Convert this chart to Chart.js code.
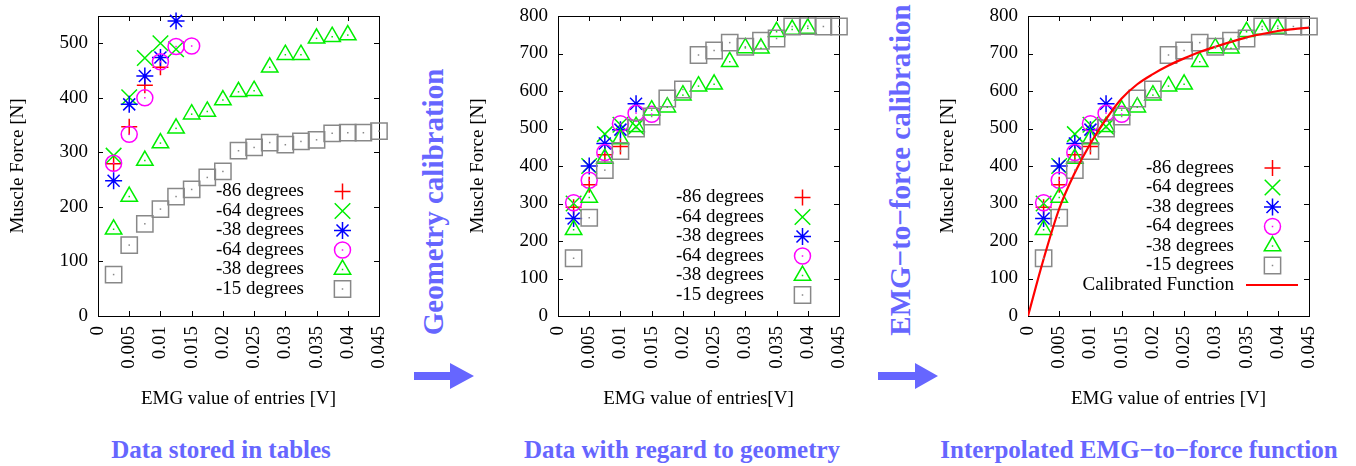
<!DOCTYPE html>
<html lang="en">
<head>
<meta charset="UTF-8" />
<title>EMG-to-force calibration</title>
<script src="https://cdn.jsdelivr.net/npm/chart.js"></script>
<style>
  body { margin: 0; background: #fff; }
  #page { position: relative; width: 1356px; height: 466px; overflow: hidden; font-family: "Liberation Serif", serif; }
  canvas { position: absolute; top: 0; }
  .caption { position: absolute; top: 435px; width: 440px; text-align: center; font-size: 25px; font-weight: bold; line-height: 30px; color: #6666ff; white-space: nowrap; }
  .step { position: absolute; font-size: 29px; font-weight: bold; line-height: 29px; color: #6666ff; white-space: nowrap; transform: translate(-50%, -50%) rotate(-90deg); }
  .arrow { position: absolute; top: 362px; }
</style>
</head>
<body>
<div id="page">
  <canvas id="tables" width="400" height="420" style="left:0"></canvas>
  <canvas id="geometry" width="400" height="420" style="left:460px"></canvas>
  <canvas id="calibrated" width="400" height="420" style="left:930px"></canvas>

  <div class="step" style="left:433px; top:202px">Geometry calibration</div>
  <div class="step" style="left:900px; top:170px">EMG&minus;to&minus;force calibration</div>

  <svg class="arrow" style="left:414px" width="62" height="28"><polygon points="0,10 36,10 36,1 60,14 36,27 36,18 0,18" fill="#6666ff"/></svg>
  <svg class="arrow" style="left:878px" width="62" height="28"><polygon points="0,10 37,10 37,1 60,14 37,27 37,18 0,18" fill="#6666ff"/></svg>

  <div class="caption" style="left:1px">Data stored in tables</div>
  <div class="caption" style="left:462px">Data with regard to geometry</div>
  <div class="caption" style="left:919px">Interpolated EMG&minus;to&minus;force function</div>
</div>

<script>
  // EMG values where the table entries sit
  const emg = [0.0025, 0.005, 0.0075, 0.01, 0.0125, 0.015, 0.0175, 0.02, 0.0225,
               0.025, 0.0275, 0.03, 0.0325, 0.035, 0.0375, 0.04, 0.0425, 0.045];

  const xTicks = [0, 0.005, 0.01, 0.015, 0.02, 0.025, 0.03, 0.035, 0.04, 0.045];
  const xTickLabels = ["0", "0.005", "0.01", "0.015", "0.02", "0.025", "0.03", "0.035", "0.04", "0.045"];
  const yTicksTables = [0, 100, 200, 300, 400, 500];
  const yTicksForce = [0, 100, 200, 300, 400, 500, 600, 700, 800];

  const seriesNames = ["-86 degrees", "-64 degrees", "-38 degrees", "-64 degrees", "-38 degrees", "-15 degrees"];

  // raw table values [N]
  const tables86 = [279, 347, 423, 456];
  const tables64a = [294, 401, 473, 500, 489];
  const tables38a = [248, 388, 440, 474, 541];
  const tables64b = [280, 333, 400, 466, 494, 495];
  const tables38b = [159, 219, 285, 317, 344, 370, 375, 396, 411, 413, 456, 479, 479, 509, 512, 515];
  const tables15 = [76, 130, 169, 196, 219, 232, 254, 265, 303, 309, 318, 314, 320, 323, 335, 336, 336, 339];

  // values after geometry calibration [N]
  const geom86 = [290, 350, 430, 452];
  const geom64a = [300, 400, 485, 510, 505];
  const geom38a = [260, 400, 460, 497, 566];
  const geom64b = [302, 362, 436, 513, 541, 538];
  const geom38b = [230, 316, 420, 472, 505, 549, 557, 589, 613, 618, 678, 715, 714, 758, 764, 767];
  const geom15 = [154, 262, 389, 440, 500, 532, 580, 604, 696, 708, 729, 718, 734, 740, 772, 773, 772, 772];

  // calibrated function
  const fitEmg = [0, 0.0025, 0.005, 0.0075, 0.01, 0.0125, 0.015, 0.0175, 0.02, 0.0225,
                  0.025, 0.0275, 0.03, 0.0325, 0.035, 0.0375, 0.04, 0.0425, 0.045];
  const fitForce = [0, 152, 286, 382, 460, 525, 580, 618, 645, 668, 687, 704, 718, 731, 743, 752, 760, 765, 769];

  const serif = "Liberation Serif";
  const markers = [
    { color: "#ff0000", style: "cross", radius: 8 },
    { color: "#00ee00", style: "crossRot", radius: 11 },
    { color: "#0000ff", style: "star", radius: 8.5 },
    { color: "#ff00ff", style: "circle", radius: 8, dot: true },
    { color: "#00ee00", style: "triangle", radius: 9.5, dot: true },
    { color: "#888888", style: "rect", radius: 11.5, dot: true },
  ];

  function markerSets(seriesList) {
    const n = seriesList.length + 1;
    return seriesList.map((values, i) => {
      const m = markers[i];
      return {
        label: seriesNames[i],
        data: values.map((v, k) => ({ x: emg[k], y: v })),
        pointStyle: m.style,
        pointRadius: m.radius,
        pointHoverRadius: m.radius,
        pointBorderColor: m.color,
        pointBackgroundColor: "rgba(0,0,0,0)",
        pointBorderWidth: 1.5,
        showLine: false,
        clip: false,
        order: n - i,
        dot: m.dot,
      };
    });
  }

  // box with inward ticks on all four sides (gnuplot style)
  const framePlugin = {
    id: "frame",
    beforeDatasetsDraw(chart) {
      const { ctx, chartArea: a, scales } = chart;
      ctx.save();
      ctx.strokeStyle = "#000";
      ctx.lineWidth = 1;
      ctx.strokeRect(a.left + 0.5, a.top + 0.5, a.right - a.left, a.bottom - a.top);
      ctx.beginPath();
      scales.x.ticks.forEach((t) => {
        const px = Math.round(scales.x.getPixelForValue(t.value)) + 0.5;
        ctx.moveTo(px, a.bottom); ctx.lineTo(px, a.bottom - 5);
        ctx.moveTo(px, a.top); ctx.lineTo(px, a.top + 5);
      });
      scales.y.ticks.forEach((t) => {
        const py = Math.round(scales.y.getPixelForValue(t.value)) + 0.5;
        ctx.moveTo(a.left, py); ctx.lineTo(a.left + 5, py);
        ctx.moveTo(a.right, py); ctx.lineTo(a.right - 5, py);
      });
      ctx.stroke();
      ctx.restore();
    },
  };

  // small dot in the middle of open markers
  const dotPlugin = {
    id: "centreDots",
    afterDatasetsDraw(chart) {
      const ctx = chart.ctx;
      ctx.save();
      chart.data.datasets.forEach((ds, i) => {
        if (!ds.dot) return;
        ctx.fillStyle = ds.pointBorderColor;
        chart.getDatasetMeta(i).data.forEach((p) => ctx.fillRect(p.x - 0.75, p.y - 0.75, 1.5, 1.5));
      });
      ctx.restore();
    },
  };

  // key drawn inside the plot, text on the left and sample on the right
  const boxLegendPlugin = {
    id: "boxLegend",
    afterDatasetsDraw(chart, args, opts) {
      const { ctx, chartArea: a } = chart;
      const sets = chart.data.datasets;
      const first = opts.lastRow - (sets.length - 1) * opts.rowGap;
      ctx.save();
      ctx.font = "19px '" + serif + "'";
      ctx.textAlign = "right";
      ctx.textBaseline = "middle";
      sets.forEach((ds, i) => {
        const y = first + i * opts.rowGap;
        ctx.fillStyle = "#000";
        ctx.fillText(ds.label, a.left + opts.textRight, y);
        if (ds.showLine) {
          ctx.strokeStyle = ds.borderColor;
          ctx.lineWidth = ds.borderWidth;
          ctx.beginPath();
          ctx.moveTo(a.left + opts.textRight + 12, y);
          ctx.lineTo(a.left + opts.textRight + 64, y);
          ctx.stroke();
          return;
        }
        const mx = a.left + opts.marker;
        ctx.strokeStyle = ds.pointBorderColor;
        ctx.fillStyle = "rgba(0,0,0,0)";
        ctx.lineWidth = ds.pointBorderWidth;
        Chart.helpers.drawPoint(ctx, { pointStyle: ds.pointStyle, radius: ds.pointRadius, borderWidth: ds.pointBorderWidth, rotation: 0 }, mx, y);
        if (ds.dot) {
          ctx.fillStyle = ds.pointBorderColor;
          ctx.fillRect(mx - 0.75, y - 0.75, 1.5, 1.5);
        }
      });
      ctx.restore();
    },
  };

  function makeChart(id, datasets, yTicks, yMax, xTitle, legendPos) {
    const tickFont = { family: serif, size: 19 };
    return new Chart(document.getElementById(id), {
      type: "scatter",
      data: { datasets: datasets },
      options: {
        responsive: false,
        animation: false,
        events: [],
        layout: { padding: { left: 0, right: 21, top: 16, bottom: 10 } },
        plugins: {
          legend: { display: false },
          tooltip: { enabled: false },
          boxLegend: legendPos,
        },
        scales: {
          x: {
            type: "linear",
            min: 0,
            max: 0.045,
            afterBuildTicks: (s) => { s.ticks = xTicks.map((v) => ({ value: v })); },
            afterFit: (s) => { s.height = 94; s.paddingLeft = 0; s.paddingRight = 0; },
            grid: { display: false, drawTicks: false },
            border: { display: false },
            ticks: {
              autoSkip: false,
              minRotation: 90,
              maxRotation: 90,
              padding: 10,
              color: "#000",
              font: tickFont,
              callback: (v, i) => xTickLabels[i],
            },
            title: { display: true, text: xTitle, color: "#000", font: tickFont, padding: 0 },
          },
          y: {
            min: 0,
            max: yMax,
            afterBuildTicks: (s) => { s.ticks = yTicks.map((v) => ({ value: v })); },
            afterFit: (s) => { s.width = 98; s.paddingTop = 0; s.paddingBottom = 0; },
            grid: { display: false, drawTicks: false },
            border: { display: false },
            ticks: { padding: 10, color: "#000", font: tickFont },
            title: { display: true, text: "Muscle Force [N]", color: "#000", font: tickFont, padding: { top: 7, bottom: 0 } },
          },
        },
      },
      plugins: [framePlugin, dotPlugin, boxLegendPlugin],
    });
  }

  makeChart(
    "tables",
    markerSets([tables86, tables64a, tables38a, tables64b, tables38b, tables15]),
    yTicksTables, 550, "EMG value of entries [V]",
    { textRight: 206, marker: 244.5, lastRow: 289, rowGap: 19.5 }
  );

  makeChart(
    "geometry",
    markerSets([geom86, geom64a, geom38a, geom64b, geom38b, geom15]),
    yTicksForce, 800, "EMG value of entries[V]",
    { textRight: 206, marker: 244.5, lastRow: 295, rowGap: 19.5 }
  );

  const calibratedSets = markerSets([geom86, geom64a, geom38a, geom64b, geom38b, geom15]);
  calibratedSets.push({
    label: "Calibrated Function",
    data: fitEmg.map((x, k) => ({ x: x, y: fitForce[k] })),
    showLine: true,
    borderColor: "#ff0000",
    borderWidth: 2.2,
    pointRadius: 0,
    cubicInterpolationMode: "monotone",
    fill: false,
    order: 0,
  });
  makeChart(
    "calibrated",
    calibratedSets,
    yTicksForce, 800, "EMG value of entries [V]",
    { textRight: 206, marker: 244.5, lastRow: 285, rowGap: 19.5 }
  );
</script>
</body>
</html>
